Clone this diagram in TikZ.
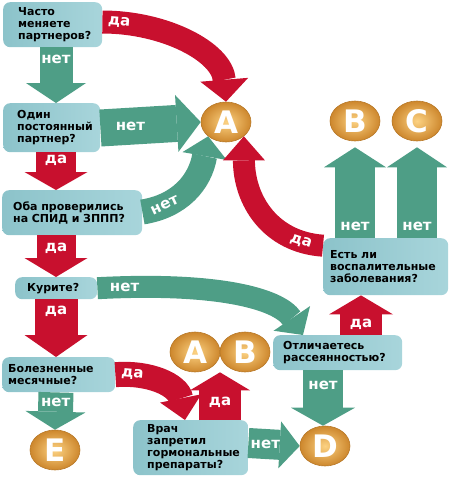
\documentclass[tikz,border=0pt]{standalone}
\usepackage{fontspec}
\setmainfont{DejaVu Sans}
\usetikzlibrary{arrows.meta, positioning, calc, shapes.geometric}
\definecolor{dared}{RGB}{200,16,46}
\definecolor{netgreen}{RGB}{78,158,134}
\definecolor{qfill}{RGB}{168,213,219}
\definecolor{qshade}{RGB}{140,195,202}
\definecolor{goldin}{RGB}{252,210,130}
\definecolor{goldout}{RGB}{205,135,45}

\begin{document}
\begin{tikzpicture}[
    x=1pt, y=-1pt,
    qbox/.style={rounded corners=7pt, left color=qshade, right color=qfill, anchor=north west,
        align=left, inner xsep=10pt, inner ysep=2pt, font=\bfseries\fontsize{11}{12}\selectfont},
    letter/.style={ellipse, minimum width=50pt, minimum height=40pt, inner sep=0pt,
        inner color=goldin, outer color=goldout, draw=goldout!90!black, line width=0.6pt,
        text=white, font=\bfseries\fontsize{31}{31}\selectfont},
    blockarrow/.style n args={3}{line width=#1, line cap=butt,
        -{Triangle[width=#2, length=#3, line width=0pt]}},
    yesarrow/.style={draw=dared},
    noarrow/.style={draw=netgreen},
    lbl/.style={text=white, inner sep=0pt, font=\bfseries\fontsize{15}{15}\selectfont}
]
\useasboundingbox (0,0) rectangle (450,477);

% questions
\node[qbox, inner xsep=15pt, text width=69pt, minimum height=45pt] (q1) at (3,2) {Часто\\меняете\\партнеров?};
\node[qbox, inner xsep=14pt, text width=69pt, minimum height=49pt] (q2) at (3,103) {Один\\постоянный\\партнер?};
\node[qbox, inner xsep=11pt, text width=118pt, minimum height=45pt] (q3) at (2,190) {Оба проверились\\на СПИД и ЗППП?};
\node[qbox, inner xsep=12pt, text width=58pt, minimum height=22pt] (q4) at (15,277) {Курите?};
\node[qbox, inner xsep=6pt, text width=101pt, minimum height=35pt] (q5) at (2,357) {Болезненные\\месячные?};
\node[qbox, inner xsep=14pt, text width=87pt, minimum height=55pt] (q6) at (133,420) {Врач\\запретил\\гормональные\\препараты?};
\node[qbox, inner xsep=10pt, text width=109pt, minimum height=35pt] (q7) at (273,335) {Отличаетесь\\рассеянностью?};
\node[qbox, inner xsep=7pt, text width=111pt, minimum height=57pt] (q8) at (323,238) {Есть ли\\воспалительные\\заболевания?};

% answers
\node[letter] (A1) at (226,122) {A};
\node[letter] (B1) at (355,121) {B};
\node[letter] (C1) at (417,121) {C};
\node[letter] (A2) at (195,352) {A};
\node[letter] (B2) at (245,352) {B};
\node[letter] (D) at (325,446) {D};
\node[letter] (E) at (55,450) {E};

% columns for straight arrows
\coordinate (col) at (56,0);
\coordinate (colAB) at ($(A2.south)!0.5!(B2.south)$);
\coordinate (colyes) at (361,0);
\coordinate (colno) at (323,0);

% straight arrows
\draw[noarrow, blockarrow={33pt}{60pt}{20pt}] (col |- q1.south) -- (col |- q2.north)
    node[lbl, pos=0.22] {нет};
\draw[noarrow, blockarrow={37pt}{57pt}{24pt}] (q2.east |- 0,128) -- (A1.west)
    node[lbl, pos=0.3] {нет};
\draw[yesarrow, blockarrow={40pt}{63pt}{18pt}] (col |- q2.south) -- (col |- q3.north)
    node[lbl, pos=0.22] {да};
\draw[yesarrow, blockarrow={39pt}{63pt}{19pt}] (col |- q3.south) -- (col |- q4.north)
    node[lbl, pos=0.3] {да};
\draw[yesarrow, blockarrow={43pt}{63pt}{22pt}] (col |- q4.south) -- (col |- q5.north)
    node[lbl, pos=0.2] {да};
\draw[noarrow, blockarrow={35pt}{60pt}{18pt}] (col |- q5.south) -- (E.north)
    node[lbl, pos=0.28] {нет};
\draw[yesarrow, blockarrow={42pt}{60pt}{18pt}] (colAB |- q6.north) -- (colAB)
    node[lbl, pos=0.36] {да};
\draw[noarrow, blockarrow={30pt}{47pt}{20pt}] (q6.east |- 0,443) -- (D.west)
    node[lbl, pos=0.33] {нет};
\draw[yesarrow, blockarrow={42pt}{64pt}{19pt}] (colyes |- q7.north) -- (colyes |- q8.south)
    node[lbl, pos=0.26] {да};
\draw[noarrow, blockarrow={40pt}{64pt}{18pt}] (colno |- q7.south) -- (colno |- D.north)
    node[lbl, pos=0.27] {нет};
\draw[noarrow, blockarrow={40pt}{62pt}{20pt}, shorten >=6pt] (q8.north -| B1.south) -- (B1.south)
    node[lbl, pos=0.12] {нет};
\draw[noarrow, blockarrow={40pt}{60pt}{20pt}, shorten >=6pt] (q8.north -| C1.south) -- (C1.south)
    node[lbl, pos=0.12] {нет};

% curved arrows
\draw[yesarrow, blockarrow={23pt}{48pt}{22pt}] (q1.east |- 0,22)
    .. controls (165,22) and (222,52) .. (A1.north)
    node[lbl, sloped, pos=0.09] {да};
\draw[noarrow, blockarrow={25pt}{45pt}{20pt}] (q3.east |- 0,212)
    .. controls (180,206) and (200,182) .. (A1.south west)
    node[lbl, sloped, pos=0.22] {нет};
\draw[yesarrow, blockarrow={22pt}{42pt}{24pt}] ($(q8.west)+(0,-21)$)
    .. controls (270,242) and (244,200) .. (A1.south east)
    node[lbl, sloped, pos=0.15] {да};
\draw[noarrow, blockarrow={22pt}{44pt}{20pt}] (q4.east)
    .. controls (215,282) and (278,298) .. ($(q7.north west)+(30,0)$)
    node[lbl, pos=0.08] {нет};
\draw[yesarrow, blockarrow={25pt}{42pt}{22pt}] (q5.east)
    .. controls (150,372) and (178,385) .. ($(q6.north west)+(52,0)$)
    node[lbl, sloped, pos=0.17] {да};
\end{tikzpicture}
\end{document}
